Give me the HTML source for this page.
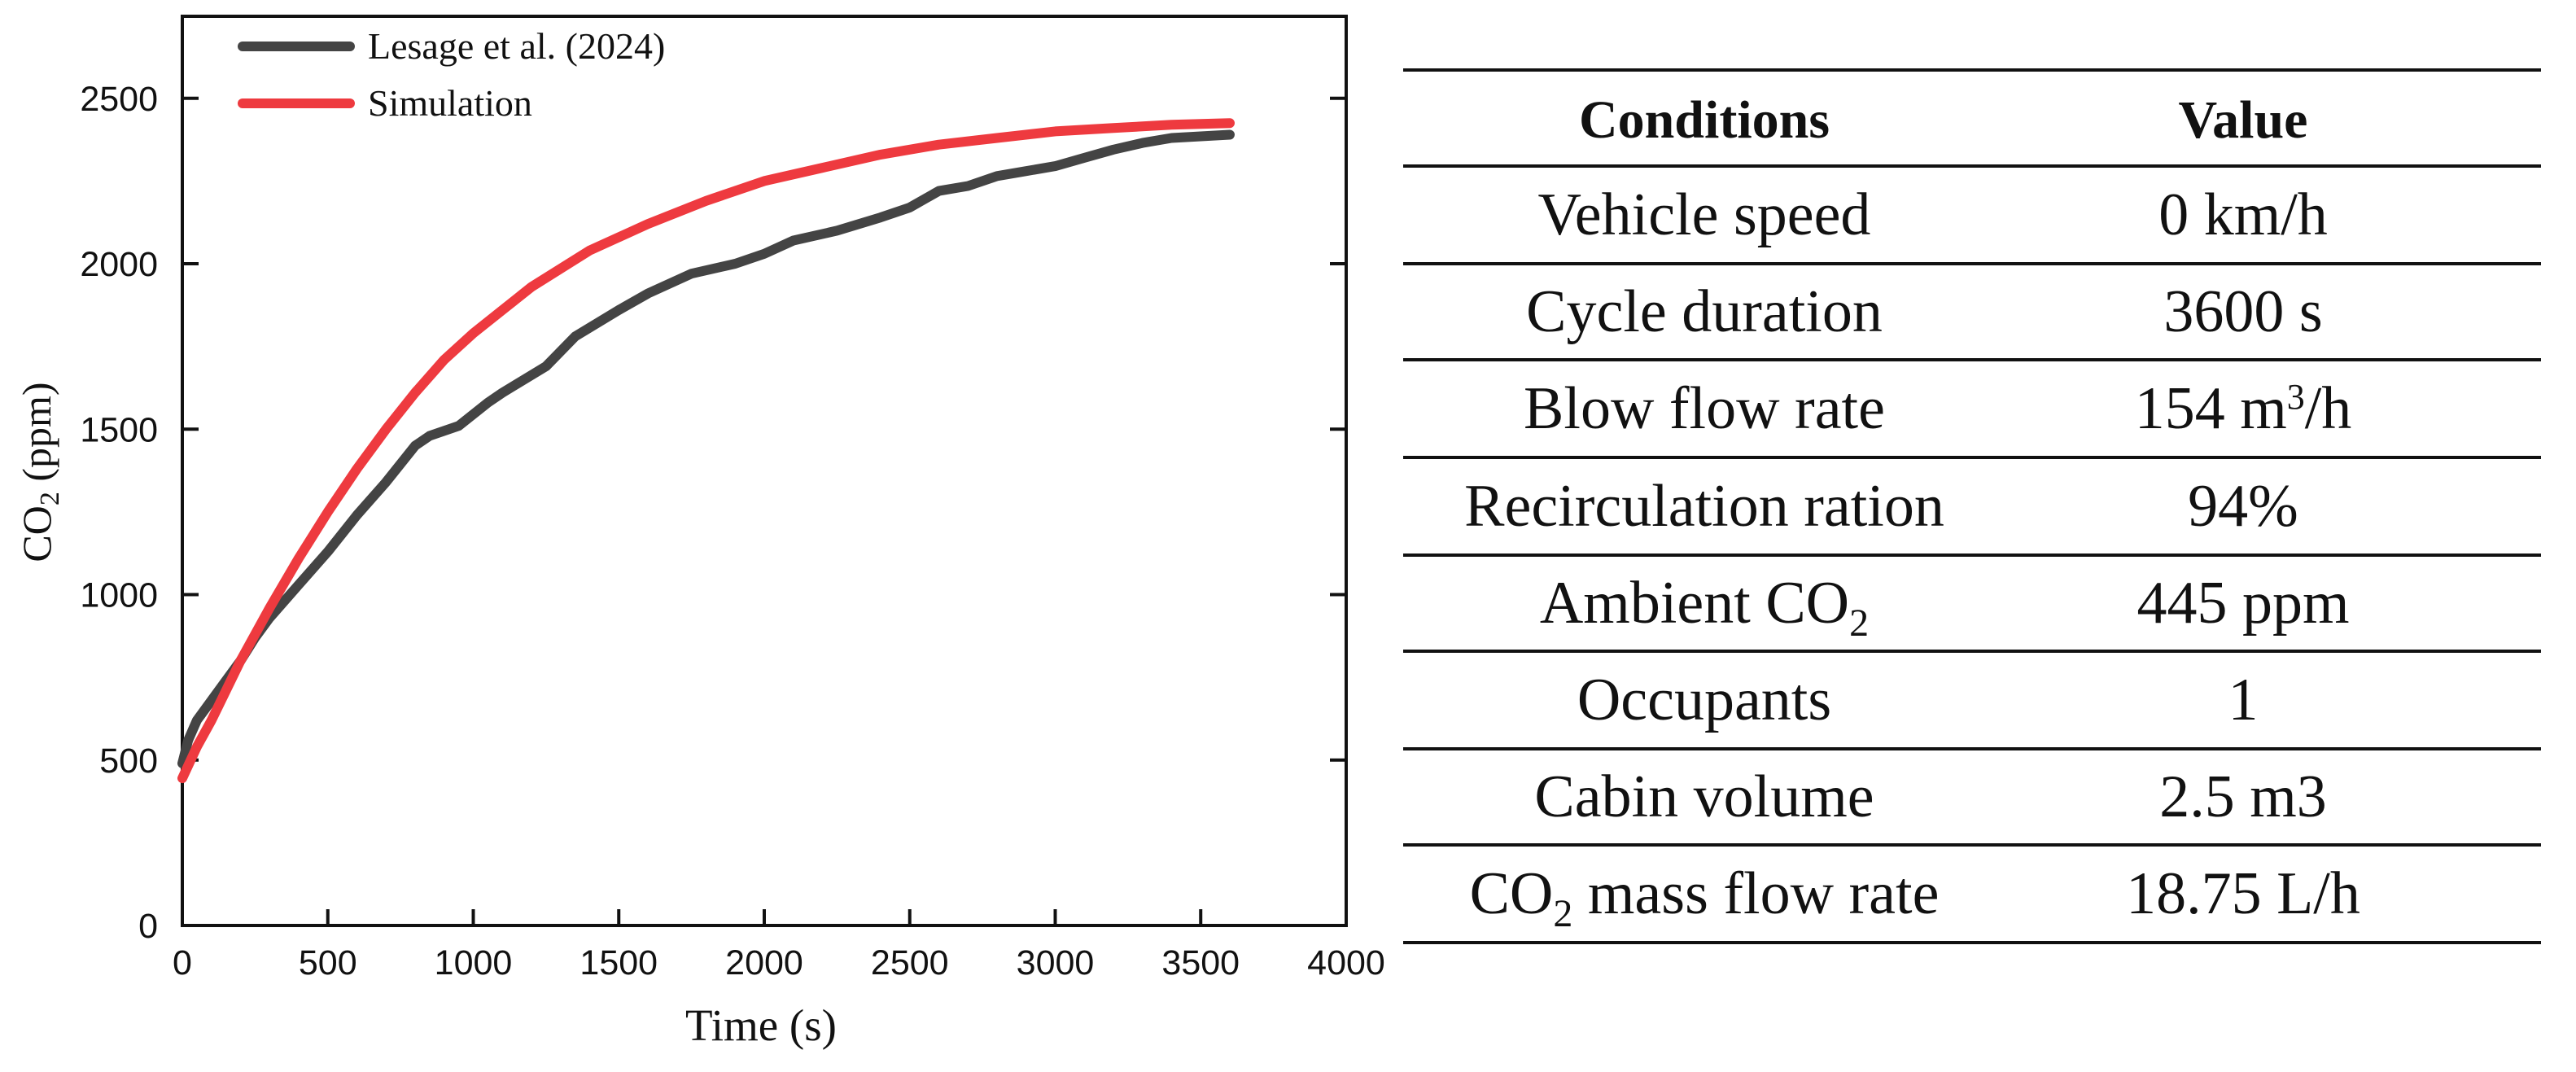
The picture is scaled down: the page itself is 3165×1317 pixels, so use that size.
<!DOCTYPE html>
<html><head><meta charset="utf-8"><style>
html,body{margin:0;padding:0;background:#fff;}
body{width:3165px;height:1317px;position:relative;overflow:hidden;}
svg{position:absolute;left:0;top:0;}
</style></head><body>
<svg id="chart" width="3165" height="1317" xmlns="http://www.w3.org/2000/svg"></svg>
<script>
const xTicks=[0,500,1000,1500,2000,2500,3000,3500,4000];
const yTicks=[0,500,1000,1500,2000,2500];
const expT=[0,20,50,100,150,200,250,300,400,500,600,700,800,850,950,1050,1100,1250,1350,1500,1600,1750,1900,2000,2100,2250,2400,2500,2600,2700,2800,2900,3000,3100,3200,3300,3400,3500,3600];
const expV=[490,560,620,680,740,800,870,930,1030,1130,1240,1340,1450,1480,1510,1580,1610,1690,1780,1860,1910,1970,2000,2030,2070,2100,2140,2170,2220,2235,2265,2280,2295,2320,2345,2365,2380,2385,2390];
const simT=[0,50,100,200,300,400,500,600,700,800,900,1000,1200,1400,1600,1800,2000,2200,2400,2600,2800,3000,3200,3400,3600];
const simV=[445,540,620,800,960,1110,1250,1380,1500,1610,1710,1790,1930,2040,2120,2190,2250,2290,2330,2360,2380,2400,2410,2420,2425];
const NS='http://www.w3.org/2000/svg';
const svg=document.getElementById('chart');
const X0=224,XS=(1654-224)/4000,Y0=1137,YS=0.4065,TOP=20;
const xs=v=>X0+v*XS, ys=v=>Y0-v*YS;
function mk(t,a,p){const e=document.createElementNS(NS,t);for(const k in a)e.setAttribute(k,a[k]);(p||svg).appendChild(e);return e;}
const frame=mk('rect',{x:X0,y:TOP,width:1654-X0,height:Y0-TOP,fill:'none',stroke:'#111','stroke-width':4});


xTicks.forEach(v=>{
 const l=mk('line',{x1:xs(v),x2:xs(v),y1:Y0,y2:Y0-20,stroke:'#111','stroke-width':4});
 
 
 const t=mk('text',{x:xs(v),y:Y0+60,'text-anchor':'middle','font-family':'Liberation Sans, sans-serif','font-size':43,fill:'#111'});
 t.textContent=v;
 
 
});
yTicks.forEach(v=>{
 const l=mk('line',{x1:X0,x2:X0+20,y1:ys(v),y2:ys(v),stroke:'#111','stroke-width':4});
 
 
 const r=mk('line',{x1:1654,x2:1634,y1:ys(v),y2:ys(v),stroke:'#111','stroke-width':4});
 
 
 const t=mk('text',{x:194,y:ys(v)+15,'text-anchor':'end','font-family':'Liberation Sans, sans-serif','font-size':43,fill:'#111'});
 t.textContent=v;
 
 
});
function series(T,V,c,n){
 const d=T.map((t,i)=>(i?'L':'M')+xs(t).toFixed(1)+','+ys(V[i]).toFixed(1)).join(' ');
 const p=mk('path',{d:d,fill:'none',stroke:c,'stroke-width':12,'stroke-linecap':'round','stroke-linejoin':'round'});
 
 
}
series(expT,expV,'#444','lesage-series');
series(simT,simV,'#ee3a3f','simulation-series');
[['#444','Lesage et al. (2024)',57],['#ee3a3f','Simulation',127]].forEach(([c,s,y])=>{
 const l=mk('line',{x1:298,x2:430,y1:y,y2:y,stroke:c,'stroke-width':12,'stroke-linecap':'round'});
 
 
 const t=mk('text',{x:452,y:y+15,'font-family':'Liberation Serif, serif','font-size':46,fill:'#111'});
 t.textContent=s;
 
 
});
const xt=mk('text',{x:935,y:1278,'text-anchor':'middle','font-family':'Liberation Serif, serif','font-size':55,fill:'#111'});
xt.textContent='Time (s)';


const yt=mk('text',{x:0,y:0,'text-anchor':'middle','font-family':'Liberation Serif, serif','font-size':50,fill:'#111',transform:'translate(62,580) rotate(-90)'});
yt.innerHTML='CO<tspan font-size="34" dy="10">2</tspan><tspan dy="-10"> (ppm)</tspan>';


// table
const rows=[['<tspan font-weight="bold" font-size="66">Conditions</tspan>','<tspan font-weight="bold" font-size="66">Value</tspan>'],
['Vehicle speed','0 km/h'],['Cycle duration','3600 s'],
['Blow flow rate','154 m<tspan font-size="44" dy="-24">3</tspan><tspan dy="24">/h</tspan>'],
['Recirculation ration','94%'],
['Ambient CO<tspan font-size="48" dy="16">2</tspan>','445 ppm'],
['Occupants','1'],['Cabin volume','2.5 m3'],
['CO<tspan font-size="48" dy="16">2</tspan><tspan dy="-16"> mass flow rate</tspan>','18.75 L/h']];
const lineY=[86,204,324,442,562,682,800,920,1038,1158];
lineY.forEach(y=>{
 const l=mk('line',{x1:1724,x2:3122,y1:y,y2:y,stroke:'#111','stroke-width':4});
 
 
});
rows.forEach((r,i)=>{
 const cy=(lineY[i]+lineY[i+1])/2+24;
 [2094,2756].forEach((cx,j)=>{
  const t=mk('text',{x:cx,y:cy,'text-anchor':'middle','font-family':'Liberation Serif, serif','font-size':74,fill:'#111'});
  t.innerHTML=r[j];
  
  
 });
});
</script>
</body></html>
